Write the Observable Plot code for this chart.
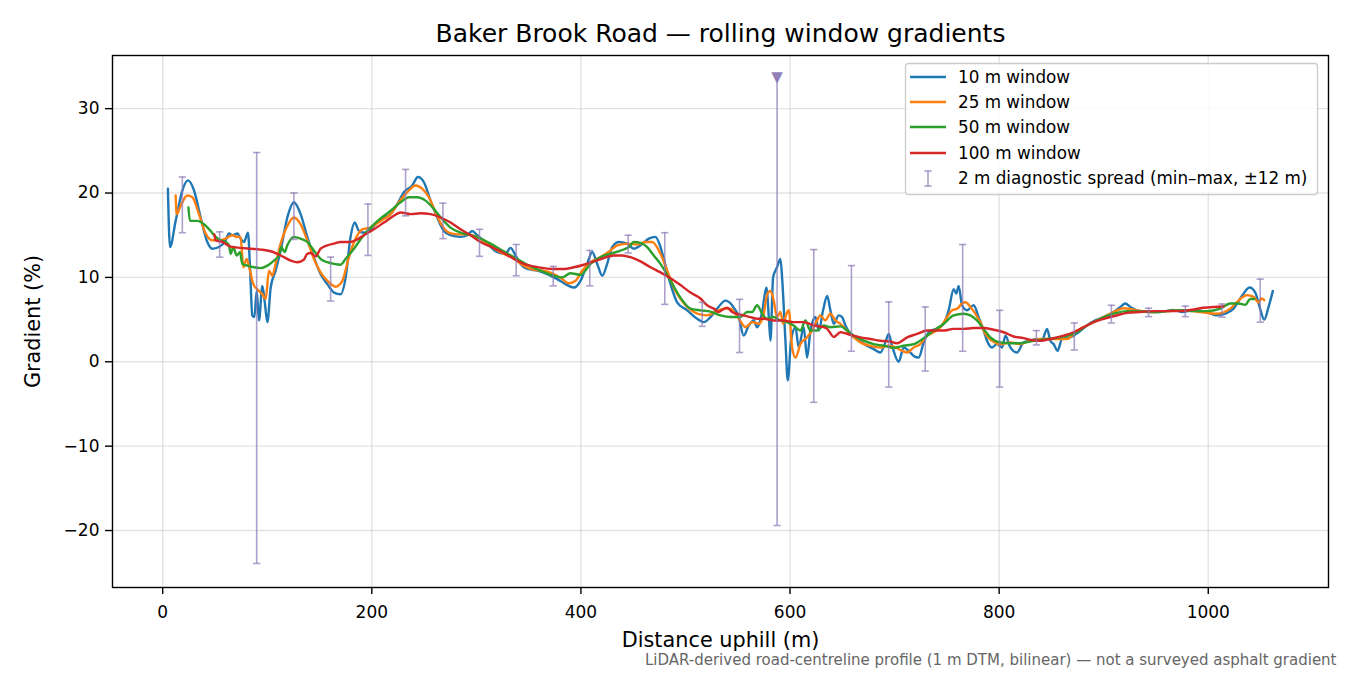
<!DOCTYPE html>
<html>
<head>
<meta charset="utf-8">
<script src="https://cdn.jsdelivr.net/npm/d3@7"></script>
<script src="https://cdn.jsdelivr.net/npm/@observablehq/plot@0.6"></script>
<style>
  html, body { margin: 0; padding: 0; background: #fff; }
  #chart { width: 1350px; height: 675px; }
</style>
</head>
<body>
<div id="chart"></div>
<script>
// ---- data (distance m, gradient %) ----
const w10 = [
[5,20.5],[7,13.6],[12.4,16.7],[18.8,20.3],[24.2,21.5],[30,20.3],[36.3,17.1],[42.7,14.2],[47.5,13.4],[53.8,13.6],
[60.2,14.4],[63.4,15.2],[67,15.0],[71.4,15.2],[74.5,14.6],[77.7,14.2],[81.6,15.3],[83.5,11.2],[85.7,5.5],[87.7,5.3],
[89.9,8.4],[92.1,4.9],[95.3,9.0],[97.5,7.2],[100.1,4.7],[103.3,8.8],[108,10.8],[112.8,13.2],[119.2,17.1],[125.5,18.9],
[131.9,17.5],[138.3,14.8],[144.6,12.4],[151,10.4],[157.5,9.2],[163.8,8.2],[170.2,8.0],[175,10],[179.7,14.8],[183.6,16.5],
[187.7,15.5],[192.5,15.3],[198.8,15.7],[208.4,16.9],[218,17.5],[224.4,18.7],[230.7,20.1],[238.7,20.9],[244.1,21.9],[249.8,21.3],
[256.2,19.1],[262.6,17.1],[269,15.5],[275.3,15.0],[284.9,14.8],[291.3,15.0],[296,15.5],[300.8,15.0],[310.4,14.0],[320,13.0],
[327.8,12.8],[332.7,13.5],[337.5,12.6],[342.3,11.6],[348.7,11.0],[358.3,10.8],[367.8,10.4],[377.4,9.8],[385.3,9.2],[393.3,8.8],
[399.6,9.6],[406,11.6],[410.8,13.0],[415.6,11.6],[420.4,10.2],[425.1,11.6],[429.9,13.6],[436.3,14.2],[444.3,14.0],[450.6,13.4],
[457,13.8],[465,14.6],[471.3,14.8],[476.1,13.6],[480.9,11.4],[485.7,9.2],[492,7.05],[501.6,6.1],[511.2,5.1],[517.5,4.7],
[523.9,5.3],[530.3,6.3],[538.2,7.25],[544.6,6.7],[551,5.3],[555.7,3.1],[560.5,4.3],[565.3,4.9],[568.5,4.1],[573.3,5.9],
[577.4,8.8],[579.7,5.3],[581.3,2.5],[583.8,10.0],[587.6,11.2],[590.8,12.2],[592.4,10.0],[595.6,2.5],[597.8,-2.2],[601,2.5],
[605.2,4.1],[608.3,1.7],[613.1,4.1],[616.3,0.5],[619.5,3.7],[624.3,5.3],[627.5,3.7],[631.6,6.1],[635.5,7.8],[638.6,6.1],
[641.8,4.5],[646.6,5.5],[649.8,5.3],[653,4.3],[657.7,3.3],[664.1,2.7],[673.7,1.9],[680,1.5],[686.4,1.1],[691.2,2.3],
[694.4,3.3],[697.6,1.9],[703.9,0],[708.7,1.7],[713.5,1.3],[718.3,0.7],[723.1,0.5],[727.8,2.3],[734.2,3.7],[740.6,3.9],
[746.9,4.5],[751.7,6.1],[756.5,8.6],[759,8.1],[761.3,9.0],[764.5,6.7],[769.3,6.1],[775.6,6.7],[780.4,5.3],[785.2,3.7],
[788.4,2.5],[793.2,1.7],[798,2.1],[802.8,1.7],[806,3.1],[810.7,1.7],[817,1.1],[823.4,2.3],[829.8,2.5],[836.2,2.7],
[840.9,2.5],[845.8,3.9],[849,2.5],[852.1,2.1],[855.9,1.3],[860.1,2.7],[868,2.9],[876,3.5],[884,4.3],[892,4.9],
[900,5.3],[909.5,5.9],[915.9,6.5],[920.7,6.9],[925.4,6.5],[931.8,6.1],[941.4,5.9],[954.1,5.9],[966.8,6.15],[974.8,5.9],
[985.9,6.1],[998.7,5.9],[1008.3,5.5],[1016.3,5.7],[1024.2,6.3],[1032.2,7.8],[1039.5,8.8],[1045,8.2],[1049.1,6.5],[1053.5,5.0],
[1057.7,6.5],[1061.8,8.4]
];
const w25 = [
[12.4,19.7],[13.4,17.5],[17.2,18.5],[23.6,19.7],[28.4,19.5],[34.7,17.5],[41.1,15.2],[47.5,14.4],[53.8,14.4],[60.2,14.6],
[66.6,15.0],[71.4,14.8],[74.5,14.8],[77.1,11.2],[80.3,12.2],[83.5,10.8],[86.7,9.2],[90.5,8.6],[95.3,8.0],[98.5,7.45],
[101.6,10.8],[104.8,10.2],[108,11.6],[112.8,14.0],[119.2,16.1],[125.5,17.1],[131.9,16.3],[138.3,14.4],[144.6,12.2],[151,10.6],
[157.5,9.6],[165.4,8.9],[171.8,9.6],[178.1,12.4],[184.5,14.6],[190.9,15.7],[198.8,15.9],[208.4,16.7],[218,17.5],[225.9,18.9],
[233.9,20.1],[241.9,20.9],[248.3,20.5],[254.6,19.5],[261,17.7],[267.4,16.1],[273.7,15.3],[281.7,15.1],[291.3,15.1],[300.8,14.8],
[310.4,14.0],[320,13.2],[335.9,12.2],[345.4,11.4],[354.9,10.9],[364.5,10.8],[374,10.4],[382.1,9.8],[388.4,9.3],[394.8,9.6],
[401.2,10.8],[409.2,11.8],[418.7,12.4],[428.3,13.2],[434.7,13.8],[444.3,14.0],[453.9,13.9],[461.8,14.2],[468.2,14.2],[476.1,12.8],
[482.5,10.8],[490.4,8.4],[495.2,7.45],[501.6,6.5],[511.2,5.7],[520.7,5.5],[528.7,5.9],[536.6,6.3],[543,6.3],[551,5.1],
[557.4,4.1],[563.8,4.7],[570.1,4.5],[574.9,5.7],[578.1,8.0],[581.3,8.4],[584.4,7.25],[587.6,5.3],[590.8,5.9],[593.4,4.5],
[596.6,5.7],[598.8,6.1],[602,1.7],[605.2,0.5],[610,2.1],[616.3,2.9],[621,3.7],[625.8,4.9],[629,5.5],[633.7,4.9],
[638.6,5.7],[643.4,4.9],[648.2,4.5],[654.6,3.7],[661,2.9],[667.3,2.3],[676.9,1.9],[686.4,1.7],[694.4,1.9],[700.8,1.7],
[707.2,1.3],[712,1.1],[718.3,1.7],[724.6,2.1],[731,3.1],[737.4,3.5],[743.8,4.1],[750.2,5.3],[755,6.1],[759.8,6.3],
[764.5,6.9],[767.7,7.05],[772.5,6.5],[777.2,5.7],[782,4.7],[786.8,3.3],[793.2,2.5],[801.1,2.1],[810.7,2.3],[820,2.1],
[829.8,2.5],[839.3,2.7],[852,2.7],[864.9,2.7],[874.4,3.7],[884,4.3],[896.7,5.1],[909.5,5.9],[919,6.35],[931.8,6.1],
[944.6,5.9],[960.5,6.0],[976.4,6.1],[992.4,5.9],[1008.3,5.7],[1021,6.3],[1030.6,7.45],[1037,7.9],[1043.4,7.7],[1048,7.05],
[1051.2,7.5],[1053.5,7.3]
];
const w50 = [
[24.6,18.3],[26.1,16.7],[33.2,16.7],[39.5,16.3],[45.9,15.5],[50.7,14.8],[55.5,14.4],[60.2,14.2],[63.4,13.8],[65,12.8],
[67.6,13.6],[70.7,12.6],[73.9,13.0],[76.2,11.6],[81,11.4],[87.3,11.2],[93.6,11.1],[100.1,11.4],[106.4,12.0],[111.2,12.6],
[113.4,13.6],[116.6,13.0],[119.2,13.8],[125.5,14.8],[131.9,14.6],[138.3,14.2],[144.6,13.2],[151,12.2],[157.5,11.8],[163.8,11.6],
[170.2,11.5],[175,12.2],[182.9,13.4],[190.9,14.8],[198.8,15.9],[208.4,17.0],[218,17.9],[227.5,18.9],[235.5,19.5],[243.5,19.5],
[251.4,19.1],[259.4,18.1],[267.4,16.9],[275.3,15.9],[284.9,15.3],[294.5,15.0],[304,14.6],[313.6,14.0],[323.2,13.3],[335.9,12.4],
[348.7,11.5],[361.4,10.8],[374.1,10.2],[382.1,10.0],[390,10.5],[399.6,10.3],[409.2,11.6],[418.7,12.4],[428.3,12.8],[439.5,13.25],
[445.9,13.6],[450.6,14.2],[457,14.1],[463.4,13.6],[469.7,12.6],[476.1,11.6],[485.7,9.6],[495.2,7.6],[504.8,6.3],[514.3,6.1],
[523.9,5.95],[533.5,5.5],[543,5.3],[552.6,5.3],[559,5.9],[563.8,5.9],[568.5,6.7],[573.3,5.7],[578.1,5.1],[584.4,5.3],
[590.8,4.9],[597.2,4.7],[603.5,4.3],[610,3.7],[614.7,4.9],[619.5,3.7],[625.8,3.7],[632.2,4.3],[638.6,4.1],[648.2,4.2],
[654.6,3.7],[661,3.1],[670.5,2.5],[680,2.1],[689.6,1.9],[699.2,1.65],[708.7,1.9],[718.3,2.1],[727.8,2.8],[737.4,3.7],
[746.9,4.5],[756.5,5.5],[766,5.7],[772.5,5.5],[778.8,4.9],[785.2,3.9],[791.6,2.9],[801.1,2.3],[810.7,2.2],[820,2.2],
[832.8,2.5],[845.5,2.7],[858.5,2.9],[871.2,3.3],[884,4.3],[896.7,5.1],[909.5,5.7],[922.3,6.0],[935,6.0],[947.8,5.9],
[960.5,6.0],[973.2,6.1],[986,6.0],[998.7,6.0],[1011.5,6.3],[1021,6.9],[1029,6.9],[1035.4,6.75],[1040.2,7.45],[1044,7.45]
];
const w100 = [
[49.4,15.1],[50.6,14.4],[57,14.2],[65,13.65],[74.5,13.5],[84.1,13.4],[93.6,13.3],[103.3,13.1],[109.6,12.8],[116,12.4],
[122.4,12.0],[128.7,11.8],[135,12.1],[138.3,12.8],[141.5,12.9],[146.3,12.5],[151,13.4],[157.5,13.8],[163.8,14.0],[170.2,14.2],
[179.7,14.2],[186.1,14.5],[192.5,15.0],[202,15.7],[211.6,16.5],[221.1,17.3],[227.5,17.7],[237.1,17.5],[246.7,17.6],[256.2,17.5],
[265.8,17.1],[275.3,16.5],[284.9,15.7],[294.5,15.0],[304,14.2],[313.6,13.65],[323.1,13.1],[335.9,12.2],[345.4,11.6],[355,11.3],
[364.5,11.1],[374,11.0],[383.7,11.0],[393.3,11.2],[402.8,11.5],[412.3,11.9],[421.9,12.3],[431.5,12.6],[439.5,12.6],[447.4,12.4],
[457,11.9],[466.5,11.2],[476.1,10.6],[485.7,9.9],[495.2,9.1],[504.8,8.2],[514.3,7.5],[520.7,6.7],[527.1,6.3],[531.9,5.9],
[535,6.15],[539.8,6.4],[544.6,5.9],[552.6,5.6],[562.1,5.3],[568.5,5.1],[574.9,5.1],[584.4,4.9],[594,4.9],[603.5,4.7],
[613.1,4.7],[622.7,4.3],[632.2,4.1],[635.5,3.9],[641.8,2.95],[648.2,3.5],[657.7,3.2],[667.3,2.9],[676.9,2.7],[686.4,2.5],
[695.9,2.4],[702.4,2.2],[712,2.9],[721.5,3.3],[731,3.7],[737.4,3.7],[746.9,3.7],[756.5,3.9],[766,3.9],[775.6,4.0],
[785.2,4.0],[794.7,3.8],[804.3,3.5],[813.9,3.0],[823.4,2.8],[829.8,2.6],[839.3,2.5],[848.9,2.7],[861.7,3.1],[871.2,3.5],
[880.8,4.1],[890.4,4.7],[900,5.1],[909.5,5.4],[922.3,5.8],[935,5.9],[947.8,6.0],[960.5,6.0],[973.2,6.0],[986,6.2],
[995.5,6.4],[1005,6.5],[1014.6,6.55]
];
// 2 m diagnostic spread: [distance, min, max, clippedTop]
const spread = [
[18.8,15.3,21.9,0],[54.5,12.4,15.4,0],[89.9,-23.9,24.8,0],[125.5,14.5,20.0,0],[160.6,7.2,12.4,0],
[196.3,12.6,18.7,0],[232.3,17.3,22.8,0],[268,14.6,18.8,0],[303,12.5,15.7,0],[338.1,10.2,13.9,0],
[373.5,9.0,11.3,0],[408.5,9.0,13.2,0],[445.2,12.9,15.0,0],[480.2,6.8,15.3,0],[516,4.2,7.05,0],
[551.7,1.1,7.4,0],[587.6,-19.4,33.7,1],[622.7,-4.8,13.3,0],[658.7,1.25,11.4,0],[694.4,-3.0,7.1,0],
[729.3,-1.1,6.5,0],[765.1,1.25,13.9,0],[800.5,-3.0,6.1,0],[835.6,2.0,3.7,0],[871.9,1.4,4.6,0],
[907.3,4.6,6.7,0],[942.9,5.35,6.35,0],[978,5.35,6.6,0],[1013.1,5.3,6.85,0],[1049.7,4.7,9.8,0]
];
const seriesNames = ["10 m window", "25 m window", "50 m window", "100 m window"];
const seriesColors = ["#1f77b4", "#ff7f0e", "#2ca02c", "#d62728"];
const spreadLabel = "2 m diagnostic spread (min–max, ±12 m)";
const xTicks = [0, 200, 400, 600, 800, 1000];
const yTicks = [-20, -10, 0, 10, 20, 30];
const titleText = "Baker Brook Road — rolling window gradients";
const xLabel = "Distance uphill (m)";
const yLabel = "Gradient (%)";
const captionText = "LiDAR-derived road-centreline profile (1 m DTM, bilinear) — not a surveyed asphalt gradient";

// ---- build ----
const allSeries = [w10, w25, w50, w100];
const lines = allSeries.flatMap((s, i) => s.map(([x, y]) => ({x, y, series: seriesNames[i]})));
const bars = spread.map(([x, lo, hi, c]) => ({x, lo, hi, c}));
const font = "DejaVu Sans, Liberation Sans, sans-serif";
const barColor = "#8a78b4";
const capSymbol = { draw(ctx, size) { const w = Math.sqrt(size / Math.PI); ctx.moveTo(-w, 0); ctx.lineTo(w, 0); } };
const fmt = d => (d < 0 ? "\u2212" + Math.abs(d) : String(d));

const chart = Plot.plot({
  width: 1350,
  height: 675,
  marginTop: 55,
  marginRight: 22,
  marginBottom: 88,
  marginLeft: 112,
  style: { fontFamily: font, fontSize: "17px", background: "white", color: "black", overflow: "visible" },
  x: { domain: [-48, 1115] },
  y: { domain: [-26.75, 36.3] },
  color: { domain: seriesNames, range: seriesColors },
  marks: [
    Plot.gridX(xTicks, { stroke: "#b0b0b0", strokeOpacity: 0.35, strokeWidth: 1.4 }),
    Plot.gridY(yTicks, { stroke: "#b0b0b0", strokeOpacity: 0.35, strokeWidth: 1.4 }),
    ...seriesNames.map((name) =>
      Plot.line(lines.filter(d => d.series === name), {
        x: "x", y: "y", stroke: "series", strokeWidth: 2.4, curve: "monotone-x"
      })
    ),
    Plot.ruleX(bars, { x: "x", y1: "lo", y2: "hi", stroke: barColor, strokeOpacity: 0.7, strokeWidth: 1.6 }),
    Plot.dot(bars, { x: "x", y: "lo", r: 3.6, symbol: capSymbol, stroke: barColor, strokeOpacity: 0.7, strokeWidth: 1.6, fill: "none" }),
    Plot.dot(bars.filter(d => !d.c), { x: "x", y: "hi", r: 3.6, symbol: capSymbol, stroke: barColor, strokeOpacity: 0.7, strokeWidth: 1.6, fill: "none" }),
    Plot.text(bars.filter(d => d.c), { x: "x", y: "hi", text: () => "\u25BC", fill: barColor, fillOpacity: 0.95, fontSize: 15 }),
    Plot.frame({ stroke: "black", strokeWidth: 1.4 }),
    Plot.axisX(xTicks, { tickSize: 7, tickPadding: 11, strokeWidth: 1.4, label: null, tickFormat: fmt, fontSize: 17 }),
    Plot.axisY(yTicks, { tickSize: 7, tickPadding: 6, strokeWidth: 1.4, label: null, tickFormat: fmt, fontSize: 17 }),
    Plot.text([titleText], { frameAnchor: "top", lineAnchor: "middle", dy: -22, fontSize: 25, fill: "black" }),
    Plot.text([xLabel], { frameAnchor: "bottom", lineAnchor: "middle", dy: 53, fontSize: 20.8, fill: "black" }),
    Plot.text([yLabel], { frameAnchor: "left", textAnchor: "middle", lineAnchor: "middle", dx: -79, rotate: -90, fontSize: 20.8, fill: "black" }),
    Plot.text([captionText], { frameAnchor: "bottom-right", lineAnchor: "middle", dx: 8, dy: 73, textAnchor: "end", fontSize: 15, fill: "#666666" })
  ]
});

// ---- legend ----
const svg = d3.select(chart);
const lg = svg.append("g").attr("font-family", font).attr("font-size", 16.8).attr("text-anchor", "start");
lg.append("rect").attr("x", 905.5).attr("y", 63.5).attr("width", 412).attr("height", 131).attr("rx", 3)
  .attr("fill", "white").attr("fill-opacity", 0.8).attr("stroke", "#cccccc").attr("stroke-width", 1.3);
const rowY = [77, 102, 127, 153, 178.5];
seriesNames.forEach((name, i) => {
  lg.append("line").attr("x1", 910).attr("x2", 946).attr("y1", rowY[i]).attr("y2", rowY[i])
    .attr("stroke", seriesColors[i]).attr("stroke-width", 2.4);
  lg.append("text").attr("x", 958).attr("y", rowY[i]).attr("dy", "0.35em").attr("fill", "black").text(name);
});
const ey = rowY[4];
lg.append("line").attr("x1", 928).attr("x2", 928).attr("y1", ey - 7.5).attr("y2", ey + 7.5)
  .attr("stroke", barColor).attr("stroke-opacity", 0.7).attr("stroke-width", 1.6);
[ey - 7.5, ey + 7.5].forEach(yy => lg.append("line").attr("x1", 924.4).attr("x2", 931.6).attr("y1", yy).attr("y2", yy)
  .attr("stroke", barColor).attr("stroke-opacity", 0.7).attr("stroke-width", 1.6));
lg.append("text").attr("x", 958).attr("y", ey).attr("dy", "0.35em").attr("fill", "black").text(spreadLabel);

document.getElementById("chart").appendChild(chart);
</script>
</body>
</html>
